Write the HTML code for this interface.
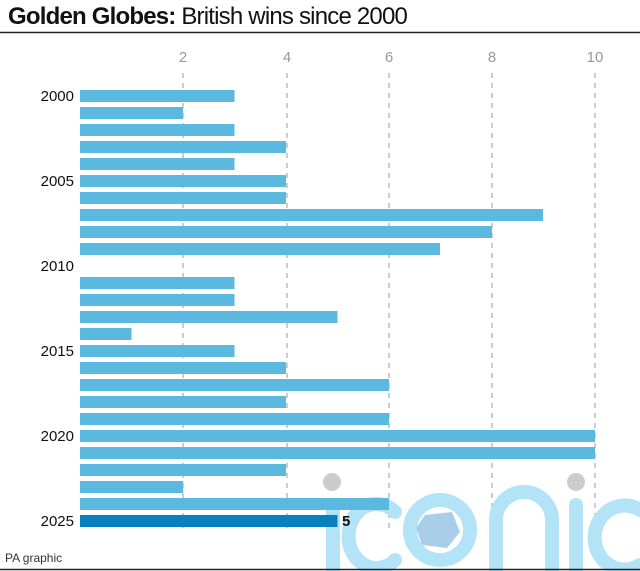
<!DOCTYPE html>
<html><head><meta charset="utf-8"><style>
body{margin:0;background:#fff;}
svg{display:block;font-family:"Liberation Sans",sans-serif;}
</style></head><body>
<svg width="640" height="571" viewBox="0 0 640 571">
<text x="8" y="24" font-size="24" fill="#111" letter-spacing="-0.8"><tspan font-weight="bold">Golden Globes:</tspan> British wins since 2000</text>
<line x1="0" y1="32.5" x2="640" y2="32.5" stroke="#222" stroke-width="1.5"/>
<g font-size="15" fill="#999" text-anchor="middle">
<text x="183" y="62">2</text><text x="287" y="62">4</text><text x="389" y="62">6</text><text x="492" y="62">8</text><text x="595" y="62">10</text>
</g>
<g stroke="#999" stroke-width="1" stroke-dasharray="5,5">
<line x1="183" y1="73" x2="183" y2="530"/><line x1="287" y1="73" x2="287" y2="530"/><line x1="389" y1="73" x2="389" y2="530"/><line x1="492" y1="73" x2="492" y2="530"/><line x1="595" y1="73" x2="595" y2="530"/>
</g>
<!-- watermark -->
<g fill="none" stroke="#b3e3f6" stroke-width="14" stroke-linecap="round">
<line x1="333" y1="505" x2="333" y2="575"/>
<path d="M395 512 A28 32 0 1 0 395 560"/>
<circle cx="440" cy="530" r="30"/>
<path d="M496 575 V520 A28 28 0 0 1 552 520 V575"/>
<line x1="576" y1="505" x2="576" y2="575"/>
<path d="M640 510 A30 32 0 1 0 640 565"/>
</g>
<polygon points="425,515 452,512 460,532 447,548 422,545 416,528" fill="#a9cfe8"/>
<circle cx="332" cy="482" r="9" fill="#ccc"/>
<circle cx="576" cy="482" r="9" fill="#ccc"/>
<g id="bars"></g>
<g font-size="15" fill="#111" text-anchor="end">
<text x="74" y="101">2000</text><text x="74" y="186">2005</text><text x="74" y="271">2010</text><text x="74" y="356">2015</text><text x="74" y="441">2020</text><text x="74" y="526">2025</text>
</g>
<text x="342" y="526" font-size="15" font-weight="bold" fill="#111">5</text>
<text x="5" y="562" font-size="12" fill="#333">PA graphic</text>
<line x1="0" y1="569.5" x2="640" y2="569.5" stroke="#222" stroke-width="1.5"/>
<g fill="#5bb9e0">
<rect x="80" y="90" width="154.5" height="12"/>
<rect x="80" y="107" width="103" height="12"/>
<rect x="80" y="124" width="154.5" height="12"/>
<rect x="80" y="141" width="206" height="12"/>
<rect x="80" y="158" width="154.5" height="12"/>
<rect x="80" y="175" width="206" height="12"/>
<rect x="80" y="192" width="206" height="12"/>
<rect x="80" y="209" width="463" height="12"/>
<rect x="80" y="226" width="412" height="12"/>
<rect x="80" y="243" width="360" height="12"/>
<rect x="80" y="277" width="154.5" height="12"/>
<rect x="80" y="294" width="154.5" height="12"/>
<rect x="80" y="311" width="257.5" height="12"/>
<rect x="80" y="328" width="51.5" height="12"/>
<rect x="80" y="345" width="154.5" height="12"/>
<rect x="80" y="362" width="206" height="12"/>
<rect x="80" y="379" width="309" height="12"/>
<rect x="80" y="396" width="206" height="12"/>
<rect x="80" y="413" width="309" height="12"/>
<rect x="80" y="430" width="515" height="12"/>
<rect x="80" y="447" width="515" height="12"/>
<rect x="80" y="464" width="206" height="12"/>
<rect x="80" y="481" width="103" height="12"/>
<rect x="80" y="498" width="309" height="12"/>
</g>
<rect x="80" y="515" width="257.5" height="12" fill="#0a7fbd"/>
</svg>
</body></html>
